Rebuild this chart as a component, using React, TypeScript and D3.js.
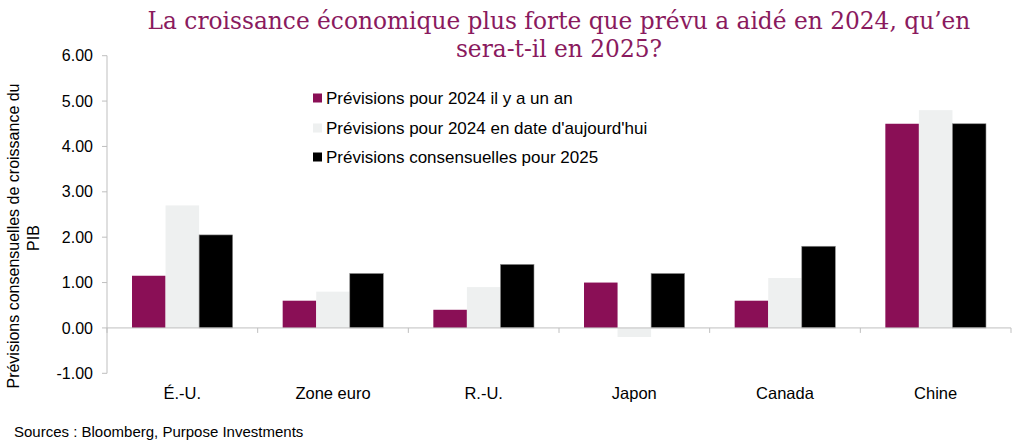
import React from "react";
import * as d3 from "d3";

const categories = ["É.-U.", "Zone euro", "R.-U.", "Japon", "Canada", "Chine"];
const seriesNames = [
  "Prévisions pour 2024 il y a un an",
  "Prévisions pour 2024 en date d'aujourd'hui",
  "Prévisions consensuelles pour 2025",
];
const prev2024YearAgo = [1.15, 0.6, 0.4, 1.0, 0.6, 4.5];
const prev2024Today = [2.7, 0.8, 0.9, -0.2, 1.1, 4.8];
const consensus2025 = [2.05, 1.2, 1.4, 1.2, 1.8, 4.5];
const yTicks = [-1, 0, 1, 2, 3, 4, 5, 6];
const colors = ["#8A0F56", "#EEF0F0", "#000000"];

export default function App() {
  const W = 1024, H = 448;
  const x0 = 107, x1 = 1011;
  const x = d3.scaleBand<string>().domain(categories).range([x0, x1]).paddingInner(0).paddingOuter(0);
  const y = d3.scaleLinear().domain([-1, 6]).range([373.3, 55.7]);
  const series = [prev2024YearAgo, prev2024Today, consensus2025];
  const bw = x.bandwidth();
  const groupPad = bw * 0.166;
  const inner = d3.scaleBand<number>().domain([0, 1, 2]).range([groupPad, bw - groupPad]).padding(0);
  const axisColor = "#BFBFBF";
  const font = "Liberation Sans, Arial, sans-serif";
  const legendY = [98, 128, 157];
  return (
    <svg width={W} height={H} style={{ position: "absolute", left: 0, top: 0, background: "#fff" }}>
      <text x={559} y={29} textAnchor="middle" fontFamily="DejaVu Serif, Georgia, serif" fontSize={23.3} fill="#8A1A5E">
        La croissance économique plus forte que prévu a aidé en 2024, qu’en
      </text>
      <text x={559} y={57} textAnchor="middle" fontFamily="DejaVu Serif, Georgia, serif" fontSize={23.3} fill="#8A1A5E">
        sera-t-il en 2025?
      </text>
      {/* y axis */}
      <line x1={x0} x2={x0} y1={y(6)} y2={y(-1)} stroke={axisColor} strokeWidth={1} />
      {yTicks.map((t) => (
        <g key={t}>
          <line x1={x0 - 5} x2={x0} y1={y(t)} y2={y(t)} stroke={axisColor} />
          <text x={93} y={y(t)} dy="0.35em" textAnchor="end" fontFamily={font} fontSize={16} fill="#000">
            {t.toFixed(2)}
          </text>
        </g>
      ))}
      <text transform={`translate(19,236) rotate(-90)`} textAnchor="middle" fontFamily={font} fontSize={16} fill="#000">
        Prévisions consensuelles de croissance du
      </text>
      <text transform={`translate(39,238) rotate(-90)`} textAnchor="middle" fontFamily={font} fontSize={16} fill="#000">
        PIB
      </text>
      {/* bars */}
      {categories.map((c, ci) => (
        <g key={c}>
          {series.map((s, si) => {
            const v = s[ci];
            const bx = (x(c) as number) + (inner(si) as number);
            const top = y(Math.max(0, v));
            const h = Math.abs(y(v) - y(0));
            return (
              <rect key={si} x={bx} y={top} width={inner.bandwidth()} height={h} fill={colors[si]}
                stroke={si === 2 ? "#8c8c8c" : "none"} strokeWidth={si === 2 ? 0.6 : 0} />
            );
          })}
        </g>
      ))}
      {/* x axis */}
      <line x1={x0} x2={x1} y1={y(0)} y2={y(0)} stroke={axisColor} />
      {categories.map((c, ci) => (
        <line key={"t" + ci} x1={(x(c) as number) + bw} x2={(x(c) as number) + bw} y1={y(0)} y2={y(0) + 5} stroke={axisColor} />
      ))}
      <line x1={x0} x2={x0} y1={y(0)} y2={y(0) + 5} stroke={axisColor} />
      {categories.map((c) => (
        <text key={"l" + c} x={(x(c) as number) + bw / 2} y={399} textAnchor="middle" fontFamily={font} fontSize={16.5} fill="#000">
          {c}
        </text>
      ))}
      {/* legend */}
      {seriesNames.map((n, i) => (
        <g key={n}>
          <rect x={313} y={legendY[i] - 4.5} width={9} height={9} fill={colors[i]} />
          <text x={326} y={legendY[i]} dy="0.35em" fontFamily={font} fontSize={17} fill="#000">
            {n}
          </text>
        </g>
      ))}
      <text x={14} y={437} fontFamily={font} fontSize={15} fill="#000">
        Sources : Bloomberg, Purpose Investments
      </text>
    </svg>
  );
}
